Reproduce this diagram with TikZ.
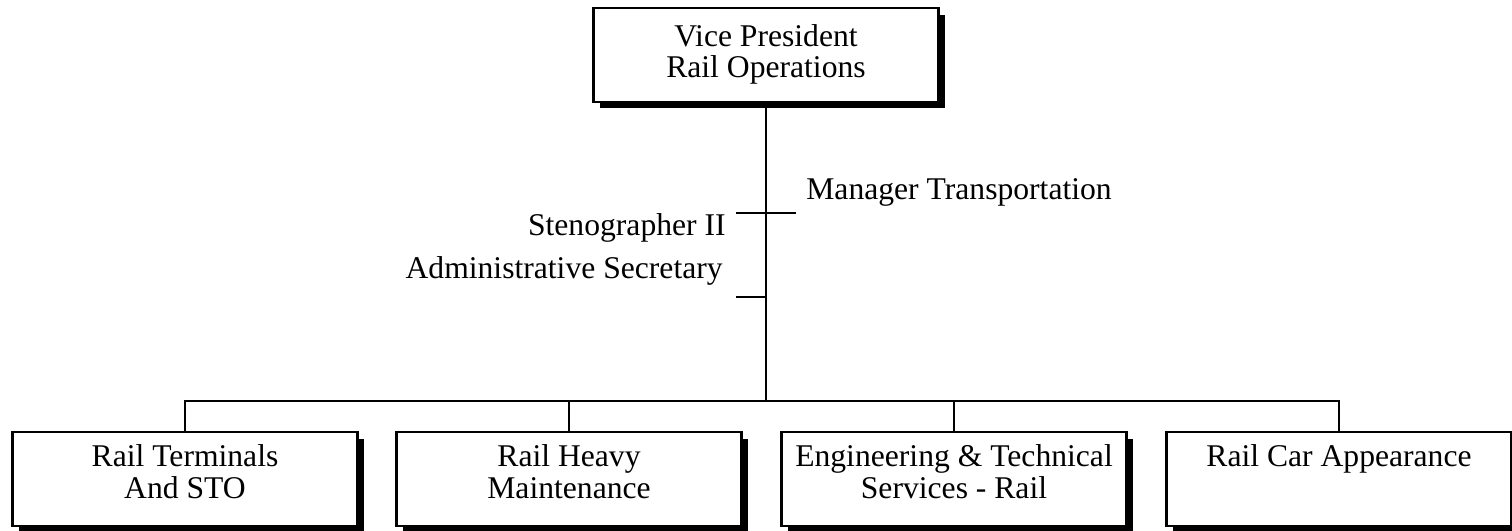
\documentclass[tikz,border=0pt]{standalone}
\usepackage{fontspec}
\setmainfont{Liberation Serif}
\usetikzlibrary{shadows}
\begin{document}
\begin{tikzpicture}[x=0.02cm,y=-0.02cm,
  every node/.style={font=\fontsize{18}{18}\selectfont},
  unit/.style={draw,line width=1.5pt,fill=white,minimum width=6.9cm,minimum height=1.88cm,
    align=center,text height=31pt,text depth=9pt,inner ysep=0pt,
    drop shadow={shadow xshift=0.13cm,shadow yshift=-0.13cm,opacity=1,fill=black}},
  post/.style={inner sep=0pt}]
\useasboundingbox (0,0) rectangle (1512,531);

\node[unit,text height=33pt,text depth=7pt] (vp) at (766,55) {Vice President\\Rail Operations};
\node[unit] (b1) at (185,479) {Rail Terminals\\And STO};
\node[unit] (b2) at (569,479) {Rail Heavy\\Maintenance};
\node[unit] (b3) at (954,479) {Engineering \& Technical\\Services - Rail};
\node[unit,text height=13pt,text depth=27pt] (b4) at (1339,479) {Rail Car Appearance};

\node[post,anchor=west] (mgr) at (806,192) {Manager Transportation};
\node[post,anchor=east] (steno) at (726,228) {Stenographer II};
\node[post,anchor=east] (admin) at (723,271) {Administrative Secretary};

\coordinate (bus) at (766,401);
\coordinate (mgrL) at (736,213);
\coordinate (mgrR) at (796,213);
\coordinate (admL) at (736,297);
\draw[line width=1.6pt] (vp) -- (bus);
\foreach \b in {b1,b2,b3,b4} \draw[line width=1pt] (bus) -| (\b.north);
\draw[line width=1.2pt] (mgrL) -- (mgrR);
\draw[line width=1.2pt] (admL) -- (admL -| bus);
\end{tikzpicture}
\end{document}
